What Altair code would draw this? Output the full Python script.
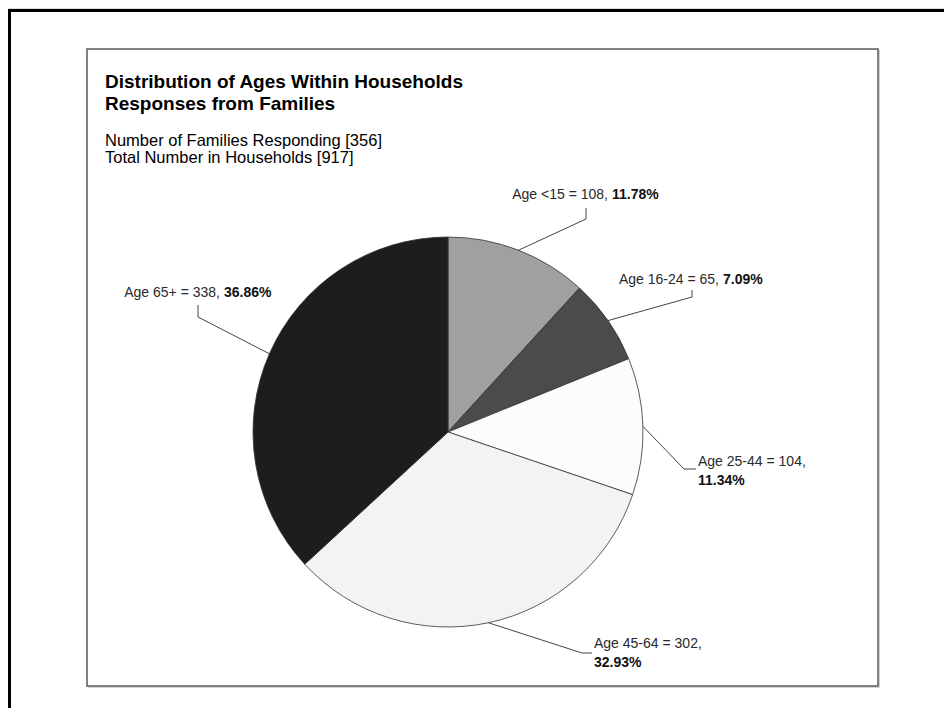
import altair as alt
import numpy as np
import pandas as pd

# ---------------- data ----------------
categories = ["Age <15", "Age 16-24", "Age 25-44", "Age 45-64", "Age 65+"]
counts = [108, 65, 104, 302, 338]
percents = [11.78, 7.09, 11.34, 32.93, 36.86]
title_lines = ["Distribution of Ages Within Households", "Responses from Families"]
subtitle_lines = ["Number of Families Responding [356]", "Total Number in Households [917]"]

# ---------------- layout / style ----------------
W, H = 936, 700
CX, CY, R = 440, 424, 195
slice_colors = ["#a0a0a0", "#4b4b4b", "#fcfcfc", "#f3f3f3", "#1d1d1d"]
FONT = "Liberation Sans"
LABEL_SIZE = 14
# leader elbow / end points and label anchors (view pixels)
elbow_x = [578, 684, 676, 574, 190]
elbow_y = [211, 289, 461, 645, 309]
end_x = [578, 684, 688, 584, 190]
end_y = [200, 282, 461, 645, 297]
two_line = [False, False, True, True, False]
label_x = [600, 711, 690, 586, 212]
label_y = [187, 272, 454, 636, 285]
LINE_GAP = 19
SPLIT_GAP = 4

# ---------------- derived tables ----------------
total = sum(counts)
cnt = np.array(counts, dtype=float)
cum = np.cumsum(cnt)
mid = (cum - cnt / 2) / total * 2 * np.pi
edge_x = CX + R * np.sin(mid)
edge_y = CY - R * np.cos(mid)

pie_df = pd.DataFrame({"cat": categories, "count": counts, "idx": range(len(counts))})

rows = []
for i, c in enumerate(categories):
    for s, (px, py) in enumerate([(edge_x[i], edge_y[i]), (elbow_x[i], elbow_y[i]), (end_x[i], end_y[i])]):
        rows.append({"cat": c, "step": s, "x": px, "y": py})
lead_df = pd.DataFrame(rows)

single_norm, single_bold, multi_norm, multi_bold = [], [], [], []
for i, c in enumerate(categories):
    norm = f"{c} = {counts[i]},"
    bold = f"{percents[i]:.2f}%"
    if two_line[i]:
        multi_norm.append({"x": label_x[i], "y": label_y[i], "t": norm})
        multi_bold.append({"x": label_x[i], "y": label_y[i] + LINE_GAP, "t": bold})
    else:
        single_norm.append({"x": label_x[i], "y": label_y[i], "t": norm})
        single_bold.append({"x": label_x[i] + SPLIT_GAP, "y": label_y[i], "t": bold})

xs = alt.Scale(domain=[0, W], nice=False, zero=False)
ys = alt.Scale(domain=[0, H], nice=False, zero=False, reverse=True)
X = lambda f: alt.X(f"{f}:Q", scale=xs, axis=None)
Y = lambda f: alt.Y(f"{f}:Q", scale=ys, axis=None)

dummy = alt.Data(values=[{"a": 1}])

# frames: outer frame extends beyond the page so only top and left show
outer = alt.Chart(dummy).mark_rect(fill="white", stroke="black", strokeWidth=3).encode(
    x=alt.value(1.5), x2=alt.value(W + 30), y=alt.value(2.5), y2=alt.value(H + 30))
shadow = alt.Chart(dummy).mark_rect(fill="white", stroke="#d0d0d0", strokeWidth=1).encode(
    x=alt.value(80), x2=alt.value(871.5), y=alt.value(42), y2=alt.value(679.5))
inner = alt.Chart(dummy).mark_rect(fill="white", stroke="#5a5a5a", strokeWidth=1.5).encode(
    x=alt.value(79), x2=alt.value(870), y=alt.value(41), y2=alt.value(678))

# titles
def text_line(t, y, bold, size):
    return alt.Chart(dummy).mark_text(
        align="left", baseline="alphabetic", font=FONT, fontSize=size,
        fontWeight="bold" if bold else "normal", color="black"
    ).encode(x=alt.value(97), y=alt.value(y), text=alt.value(t))

titles = [
    text_line(title_lines[0], 80, True, 19),
    text_line(title_lines[1], 102, True, 19),
    text_line(subtitle_lines[0], 138, False, 16.5),
    text_line(subtitle_lines[1], 155, False, 16.5),
]

pie = alt.Chart(pie_df).mark_arc(radius=R, stroke="#333333", strokeWidth=0.8).encode(
    theta=alt.Theta("count:Q", stack=True),
    order=alt.Order("idx:Q"),
    color=alt.Color("cat:N", scale=alt.Scale(domain=categories, range=slice_colors), legend=None),
    x=alt.value(CX), y=alt.value(CY),
)

leaders = alt.Chart(lead_df).mark_line(color="#444444", strokeWidth=1).encode(
    x=X("x"), y=Y("y"), detail="cat:N", order="step:Q")

def label_layer(recs, align, bold):
    return alt.Chart(pd.DataFrame(recs)).mark_text(
        align=align, baseline="middle", font=FONT, fontSize=LABEL_SIZE,
        fontWeight="bold" if bold else "normal", color="#111111" if bold else "#2a2a2a"
    ).encode(x=X("x"), y=Y("y"), text="t:N")

labels = [
    label_layer(single_norm, "right", False),
    label_layer(single_bold, "left", True),
    label_layer(multi_norm, "left", False),
    label_layer(multi_bold, "left", True),
]

chart = alt.layer(
    outer, shadow, inner, *titles, pie, leaders, *labels
).properties(
    width=W, height=H, padding=0, autosize=alt.AutoSizeParams(type="none")
).configure_view(stroke=None, strokeWidth=0).configure(background="white")

chart.save("out.html", embed_options={"renderer": "svg", "actions": False})
